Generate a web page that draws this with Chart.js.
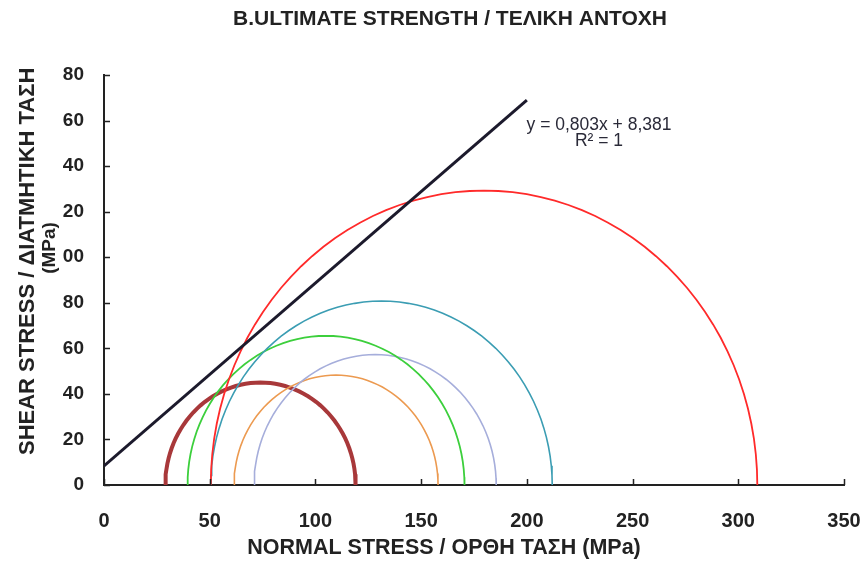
<!DOCTYPE html>
<html>
<head>
<meta charset="utf-8">
<title>Ultimate strength - Mohr circles</title>
<script src="https://cdn.jsdelivr.net/npm/chart.js@4.4.1/dist/chart.umd.min.js"></script>
<style>
  html, body { margin: 0; padding: 0; background: #fff; }
  #wrap { width: 865px; height: 563px; }
</style>
</head>
<body>
<div id="wrap"><canvas id="mohr" width="865" height="563"></canvas></div>
<script>
// Mohr circles per test: minor / major principal stress (MPa)
const sigma3 = [29, 61.5, 71, 39.5, 50.5, 50.5];
const sigma1 = [119, 158, 185.5, 170.5, 212, 309];
const circleColors = ['#a8383a', '#ec9a50', '#a6aedb', '#3ccf3c', '#3b9db3', '#ff2a2a'];
const circleWidths = [4, 1.6, 1.6, 1.8, 1.6, 1.8];

// Failure envelope (linear fit), drawn from 0 to 200 MPa
const envSlope = 0.803;
const envIntercept = 8.381;
const envRange = [0, 200];

const xTicks = [0, 50, 100, 150, 200, 250, 300, 350];
const yTicks = [0, 20, 40, 60, 80, 100, 120, 140, 160, 180];

const FONT = 'Arial, "Liberation Sans", sans-serif';
const INK = '#222';

// upper half of a circle between the two principal stresses
function halfCircle(s3, s1) {
    const c = (s1 + s3) / 2;
    const r = (s1 - s3) / 2;
    const pts = [];
    for (let a = 180; a >= 0; a -= 3) {
        const t = a * Math.PI / 180;
        pts.push({ x: c + r * Math.cos(t), y: r * Math.sin(t) });
    }
    return pts;
}

const datasets = sigma3.map((s3, i) => ({
    data: halfCircle(s3, sigma1[i]),
    borderColor: circleColors[i],
    borderWidth: circleWidths[i],
    showLine: true,
    pointRadius: 0,
    tension: 0,
    order: 10 - i,
}));

datasets.push({
    data: envRange.map(x => ({ x: x, y: envSlope * x + envIntercept })),
    borderColor: '#1c1a2c',
    borderWidth: 3,
    showLine: true,
    pointRadius: 0,
    order: 0,
});

// titles, equation label and inward tick marks
const decorations = {
    id: 'decorations',
    afterDraw(chart) {
        const ctx = chart.ctx;
        const xs = chart.scales.x;
        const ys = chart.scales.y;
        ctx.save();
        ctx.strokeStyle = INK;
        ctx.lineWidth = 1.5;
        ctx.beginPath();
        xTicks.forEach(v => {
            const px = Math.round(xs.getPixelForValue(v)) + 0.5;
            ctx.moveTo(px, ys.bottom);
            ctx.lineTo(px, ys.bottom - 6);
        });
        yTicks.forEach(v => {
            const py = Math.round(ys.getPixelForValue(v)) + 0.5;
            ctx.moveTo(xs.left, py);
            ctx.lineTo(xs.left + 6, py);
        });
        ctx.stroke();

        ctx.fillStyle = INK;
        ctx.textBaseline = 'middle';
        ctx.textAlign = 'center';
        ctx.font = 'bold 21px ' + FONT;
        ctx.fillText('B.ULTIMATE STRENGTH / ΤΕΛΙΚΗ ΑΝΤΟΧΗ', 450, 19);

        ctx.font = 'bold 21.5px ' + FONT;
        ctx.fillText('NORMAL STRESS / ΟΡΘΗ ΤΑΣΗ (MPa)', 444, 548);

        ctx.save();
        ctx.translate(28, 455);
        ctx.rotate(-Math.PI / 2);
        ctx.textAlign = 'left';
        ctx.font = 'bold 22px ' + FONT;
        ctx.fillText('SHEAR STRESS / ΔΙΑΤΜΗΤΙΚΗ ΤΑΣΗ', 0, 0);
        ctx.restore();

        ctx.save();
        ctx.translate(50, 248);
        ctx.rotate(-Math.PI / 2);
        ctx.font = 'bold 19px ' + FONT;
        ctx.fillText('(MPa)', 0, 0);
        ctx.restore();

        ctx.fillStyle = '#2a2a38';
        ctx.font = '17.5px ' + FONT;
        ctx.fillText('y = ' + String(envSlope).replace('.', ',') + 'x + ' +
            String(envIntercept).replace('.', ','), 599, 125);
        ctx.fillText('R² = 1', 599, 141);
        ctx.restore();
    }
};

new Chart(document.getElementById('mohr'), {
    type: 'scatter',
    data: { datasets: datasets },
    options: {
        responsive: false,
        animation: false,
        layout: { padding: { left: 0, right: 21, top: 75, bottom: 0 } },
        plugins: {
            legend: { display: false },
            tooltip: { enabled: false },
        },
        scales: {
            x: {
                type: 'linear',
                min: 0,
                max: 350,
                afterFit: s => {
                    s.height = 78;
                    s.paddingLeft = 0;
                    s.paddingRight = 0;
                },
                afterBuildTicks: s => { s.ticks = xTicks.map(v => ({ value: v })); },
                grid: { display: false, drawTicks: false },
                border: { display: true, color: INK, width: 2 },
                ticks: {
                    color: INK,
                    padding: 24,
                    font: { family: FONT, size: 20, weight: 'bold' },
                    maxRotation: 0,
                },
            },
            y: {
                type: 'linear',
                min: 0,
                max: 180,
                afterFit: s => {
                    s.width = 104;
                    s.paddingTop = 0;
                    s.paddingBottom = 0;
                },
                afterBuildTicks: s => { s.ticks = yTicks.map(v => ({ value: v })); },
                grid: { display: false, drawTicks: false },
                border: { display: true, color: INK, width: 2 },
                ticks: {
                    color: INK,
                    padding: 20,
                    font: { family: FONT, size: 19, weight: 'bold' },
                    // the axis labels only keep their last two digits
                    callback: v => v >= 100 ? String(v % 100).padStart(2, '0') : String(v),
                },
            },
        },
    },
    plugins: [decorations],
});
</script>
</body>
</html>
